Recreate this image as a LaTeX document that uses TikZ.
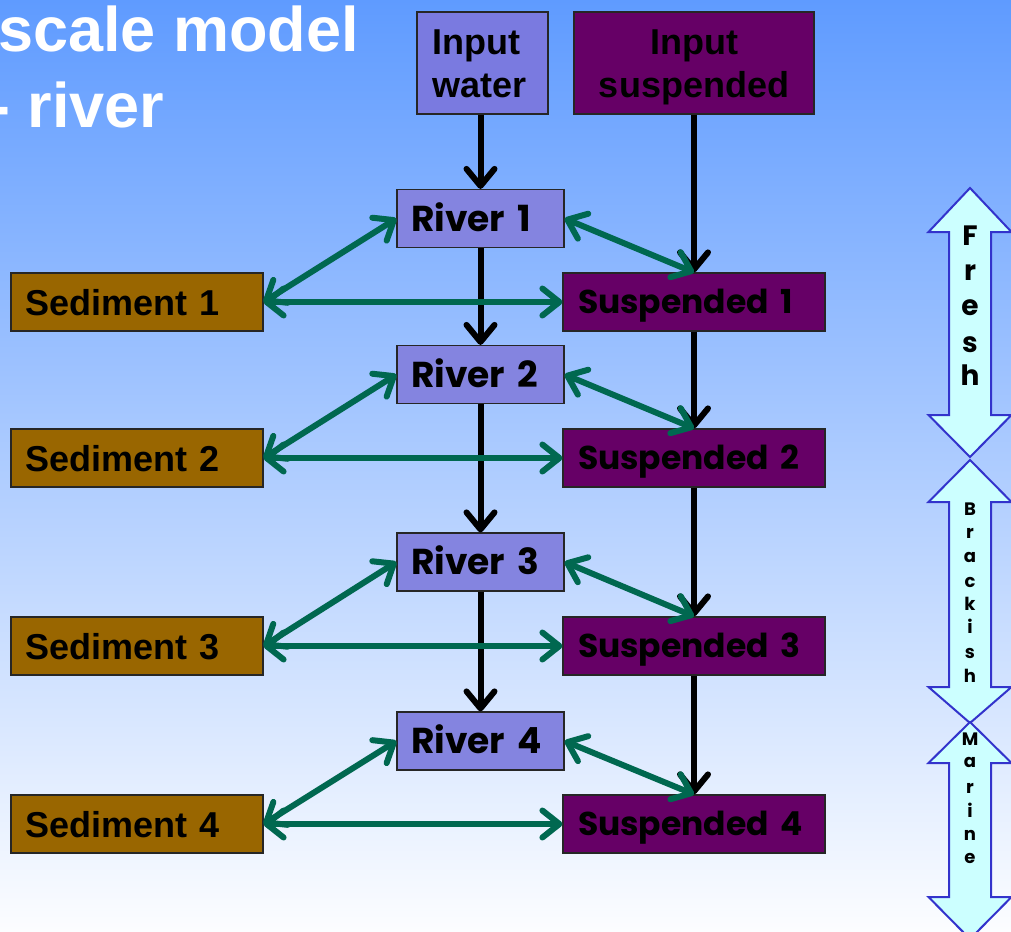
\documentclass[tikz,border=0pt]{standalone}
\usepackage{fontspec}
\setmainfont{Liberation Sans}
\newfontfamily\comicfont{Poppins}
\usetikzlibrary{arrows.meta}
\definecolor{bgtop}{RGB}{95,155,255}
\definecolor{bgbot}{RGB}{252,253,255}
\definecolor{waterc}{RGB}{122,122,224}
\definecolor{riverc}{RGB}{132,132,224}
\definecolor{suspc}{RGB}{102,0,102}
\definecolor{sedc}{RGB}{153,102,0}
\definecolor{greenc}{RGB}{0,104,80}
\definecolor{zonefill}{RGB}{204,255,255}
\definecolor{zoneedge}{RGB}{51,51,204}
\begin{document}
\begin{tikzpicture}[x=1pt,y=-1pt,
  box/.style={draw=black!85, line width=1.2pt, inner ysep=0pt},
  riverbox/.style={box, fill=riverc, inner xsep=14pt, text width=139pt, align=left,
    minimum height=58pt, text height=25pt, text depth=0pt,
    font=\comicfont\bfseries\fontsize{36}{40}\selectfont},
  suspbox/.style={box, fill=suspc, inner xsep=15pt, text width=232pt, align=left,
    minimum height=58pt, text height=23pt, text depth=0pt,
    font=\comicfont\bfseries\fontsize{33}{40}\selectfont},
  sedbox/.style={box, fill=sedc, inner xsep=14pt, text width=224pt, align=left,
    minimum height=58pt, text height=26pt, text depth=0pt,
    font=\bfseries\fontsize{36}{40}\selectfont},
  inbox/.style={box, minimum height=102pt},
  intext/.style={inner sep=0pt, font=\bfseries\fontsize{36}{40}\selectfont},
  title/.style={inner sep=0pt, anchor=base west, text=white, font=\bfseries\fontsize{63}{70}\selectfont},
  barrow/.style={draw=black, line width=6pt, -{Straight Barb[length=17pt,width=28pt,round]}},
  garrow/.style={draw=greenc, line width=6pt,
    {Straight Barb[length=17pt,width=27pt,round]}-{Straight Barb[length=17pt,width=27pt,round]}},
  zone/.style={draw=zoneedge, line width=2pt, fill=zonefill, line join=miter},
  zletter/.style={inner sep=0pt, anchor=base, font=\comicfont\bfseries\fontsize{#1}{#1}\selectfont}
]
\useasboundingbox (0,0) rectangle (1011,931);
\clip (0,0) rectangle (1011,931);
\shade[top color=bgtop, bottom color=bgbot] (0,0) rectangle (1011,931);

% title
\node[title] (t1) at (-2,52) {scale model};
\node[title] (t2) at (-11,128) {- river};

% input boxes
\node[inbox, fill=waterc, minimum width=131pt] (inw) at (482.5,63) {};
\node[intext, anchor=base west] (inw1) at (432,55) {Input};
\node[intext, anchor=base west] (inw2) at (432,98) {water};
\node[inbox, fill=suspc, minimum width=240pt] (ins) at (694,63) {};
\node[intext, anchor=base] (ins1) at (694,55) {Input};
\node[intext, anchor=base] (ins2) at (694,98) {suspended};

% rows
\foreach \i/\yr/\ys in {1/218.5/302, 2/374.5/458, 3/562/646, 4/741/824}{
  \node[riverbox] (riv\i) at (480.5,\yr) {River \i};
  \node[suspbox]  (sus\i) at (694,\ys) {Suspended \i};
  \node[sedbox]   (sed\i) at (137,\ys) {Sediment \i};
}

% black flow arrows
\draw[barrow] (inw.south -| riv1.north) -- (riv1.north);
\draw[barrow] (ins.south) -- (sus1.north);
\foreach \a/\b in {1/2, 2/3, 3/4}{
  \draw[barrow] (riv\a.south) -- (riv\b.north);
  \draw[barrow] (sus\a.south) -- (sus\b.north);
}

% green exchange arrows
\foreach \i in {1,...,4}{
  \draw[garrow] (sed\i.east) -- (riv\i.west);
  \draw[garrow] (sed\i.east) -- (sus\i.west);
  \draw[garrow] (riv\i.east) -- (sus\i.north);
}

% salinity zones
\foreach \n/\ya/\yb/\yc/\yd in {fresh/188/232/415/457, brack/460/502/687/723, marine/722/763/897/939}{
  \draw[zone] (970,\ya) -- (1011.5,\yb) -- (991,\yb) -- (991,\yc) -- (1011.5,\yc) -- (970,\yd)
    -- (928.5,\yc) -- (949,\yc) -- (949,\yb) -- (928.5,\yb) -- cycle;
}
\foreach \c/\y [count=\k] in {F/245, r/280, e/315, s/352, h/385}{
  \node[zletter=28] (fz\k) at (970,\y) {\c};
}
\foreach \c/\y [count=\k] in {B/515, r/538, a/562, c/587, k/610, i/633, s/658, h/682}{
  \node[zletter=18] (bz\k) at (970,\y) {\c};
}
\foreach \c/\y [count=\k] in {M/745, a/767, r/793, i/817, n/840, e/863}{
  \node[zletter=18] (mz\k) at (970,\y) {\c};
}
\end{tikzpicture}
\end{document}
